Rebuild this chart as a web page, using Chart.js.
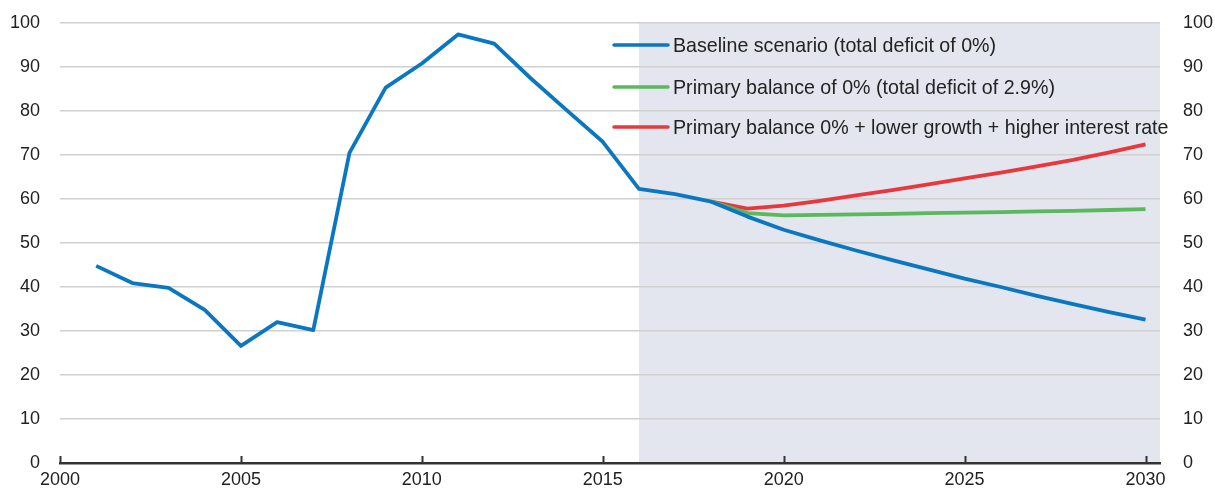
<!DOCTYPE html>
<html>
<head>
<meta charset="utf-8">
<script src="https://cdn.jsdelivr.net/npm/chart.js@4/dist/chart.umd.min.js"></script>
<style>
  html, body { margin: 0; padding: 0; background: #fff; overflow: hidden; }
  canvas { display: block; }
</style>
</head>
<body>
<canvas id="chart" width="1215" height="489" style="width:1215px;height:489px"></canvas>
<script>
// Debt ratio, % of GDP - history and scenarios
var FONT = "'Liberation Sans Narrow', 'Arial Narrow', 'Liberation Sans', sans-serif";

var histYears = [2001, 2002, 2003, 2004, 2005, 2006, 2007, 2008, 2009, 2010, 2011, 2012, 2013, 2014, 2015, 2016, 2017];
var histValues = [44.8, 40.9, 39.8, 34.8, 26.6, 32.0, 30.2, 70.5, 85.3, 90.8, 97.4, 95.3, 87.5, 80.2, 73.0, 62.3, 61.1];

var projYears = [2018, 2019, 2020, 2021, 2022, 2023, 2024, 2025, 2026, 2027, 2028, 2029, 2030];
var baselineValues = [59.4, 56.0, 53.0, 50.6, 48.3, 46.1, 44.0, 41.9, 40.0, 38.0, 36.1, 34.3, 32.6];
var primaryValues  = [59.4, 56.8, 56.3, 56.4, 56.5, 56.6, 56.8, 56.9, 57.0, 57.2, 57.3, 57.5, 57.7];
var stressValues   = [59.4, 57.8, 58.5, 59.6, 60.8, 62.0, 63.3, 64.7, 66.0, 67.4, 68.9, 70.6, 72.4];

var seriesLabels = [
    'Baseline scenario (total deficit of 0%)',
    'Primary balance of 0% (total deficit of 2.9%)',
    'Primary balance 0% + lower growth + higher interest rate'
];
var seriesColors = ['#0a77c0', '#5cb85c', '#e8383d'];

var xTicks = [2000, 2005, 2010, 2015, 2020, 2025, 2030];
var projStart = 2016;

function toPoints(xs, ys) {
    return xs.map(function(x, i) { return { x: x, y: ys[i] }; });
}

var baselinePoints = toPoints(histYears, histValues).concat(toPoints(projYears, baselineValues));

// grey projection band, painted before the grid so grid lines sit on top
var shadePlugin = {
    id: 'shade',
    beforeDraw: function(chart) {
        var ctx = chart.ctx, a = chart.chartArea, x = chart.scales.x;
        var left = x.getPixelForValue(projStart);
        ctx.save();
        ctx.fillStyle = '#e3e6ee';
        ctx.fillRect(left, a.top, a.right - left, a.bottom - a.top);
        ctx.restore();
    }
};

// x ticks pointing up + legend drawn inside the plot
var extrasPlugin = {
    id: 'extras',
    afterDraw: function(chart) {
        var ctx = chart.ctx, x = chart.scales.x, a = chart.chartArea;
        ctx.save();
        ctx.strokeStyle = '#333';
        ctx.lineWidth = 2;
        xTicks.forEach(function(t) {
            var px = Math.round(x.getPixelForValue(t)) + 0.5;
            ctx.beginPath();
            ctx.moveTo(px, a.bottom);
            ctx.lineTo(px, a.bottom - 7);
            ctx.stroke();
        });

        var rowsY = [45, 87, 127];
        seriesLabels.forEach(function(lbl, i) {
            ctx.strokeStyle = seriesColors[i];
            ctx.lineWidth = 3.5;
            ctx.lineCap = 'round';
            ctx.beginPath();
            ctx.moveTo(614, rowsY[i]);
            ctx.lineTo(668, rowsY[i]);
            ctx.stroke();

            // condensed look: squeeze the text horizontally
            ctx.save();
            ctx.translate(673, rowsY[i] + 1);
            ctx.scale(0.935, 1);
            ctx.font = '21px ' + FONT;
            ctx.textBaseline = 'middle';
            ctx.textAlign = 'left';
            ctx.fillStyle = '#222';
            ctx.fillText(lbl, 0, 0);
            ctx.restore();
        });
        ctx.restore();
    }
};

var lineStyle = { borderWidth: 3.8, pointRadius: 0, tension: 0, fill: false, borderJoinStyle: 'round' };

var chart = new Chart(document.getElementById('chart'), {
    type: 'line',
    data: {
        datasets: [
            Object.assign({ label: seriesLabels[2], data: toPoints(projYears, stressValues), borderColor: seriesColors[2], order: 3 }, lineStyle),
            Object.assign({ label: seriesLabels[1], data: toPoints(projYears, primaryValues), borderColor: seriesColors[1], order: 2 }, lineStyle),
            Object.assign({ label: seriesLabels[0], data: baselinePoints, borderColor: seriesColors[0], order: 1 }, lineStyle)
        ]
    },
    options: {
        responsive: false,
        animation: false,
        devicePixelRatio: 1,
        layout: { padding: { top: 23, bottom: 0, left: 0, right: 0 } },
        plugins: { legend: { display: false }, tooltip: { enabled: false } },
        scales: {
            x: {
                type: 'linear',
                min: 2000,
                max: 2030.4,
                afterBuildTicks: function(s) { s.ticks = xTicks.map(function(v) { return { value: v }; }); },
                grid: { display: false },
                border: { display: true, color: '#333', width: 2.5 },
                ticks: { color: '#222', font: { family: FONT, size: 18 }, padding: -2, maxRotation: 0, autoSkip: false,
                         callback: function(v) { return String(v); } },
                afterFit: function(s) { s.height = 26; }
            },
            y: {
                position: 'left',
                min: 0,
                max: 100,
                ticks: { stepSize: 10, color: '#222', font: { family: FONT, size: 18 }, padding: 0 },
                // invisible ticks give the label offset without adding top/bottom padding
                grid: { color: '#d0d0d0', lineWidth: 1.5, drawTicks: true, tickLength: 20, tickColor: 'rgba(0,0,0,0)' },
                border: { display: false },
                afterFit: function(s) { s.width = 60; }
            },
            y2: {
                position: 'right',
                min: 0,
                max: 100,
                ticks: { stepSize: 10, color: '#222', font: { family: FONT, size: 18 }, padding: 0 },
                grid: { drawOnChartArea: false, drawTicks: true, tickLength: 23, tickColor: 'rgba(0,0,0,0)' },
                border: { display: false },
                afterFit: function(s) { s.width = 55; }
            }
        }
    },
    plugins: [shadePlugin, extrasPlugin]
});
</script>
</body>
</html>
